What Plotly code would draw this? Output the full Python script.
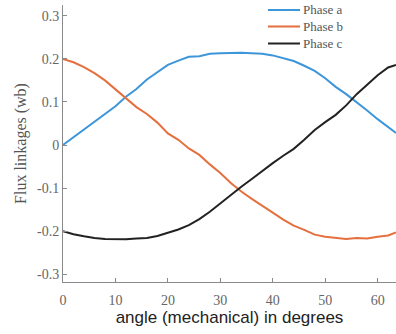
import plotly.graph_objects as go

angle = [0, 2, 4, 6, 8, 10, 12, 14, 16, 18, 20, 22, 24, 26, 28, 30, 32, 34, 36, 38,
         40, 42, 44, 46, 48, 50, 52, 54, 56, 58, 60, 62, 63.5]
phase_a = [0, 0.018, 0.036, 0.054, 0.072, 0.09, 0.112, 0.13, 0.152, 0.168, 0.186, 0.196,
           0.205, 0.206, 0.212, 0.213, 0.214, 0.214, 0.213, 0.212, 0.208, 0.202, 0.195,
           0.184, 0.172, 0.155, 0.135, 0.118, 0.1, 0.08, 0.06, 0.041, 0.028]
phase_b = [0.2, 0.192, 0.181, 0.167, 0.15, 0.13, 0.108, 0.088, 0.072, 0.052, 0.027, 0.012,
           -0.008, -0.023, -0.045, -0.065, -0.088, -0.108, -0.125, -0.142, -0.157, -0.173,
           -0.187, -0.197, -0.208, -0.213, -0.215, -0.218, -0.216, -0.217, -0.213, -0.21, -0.203]
phase_c = [-0.2, -0.207, -0.212, -0.216, -0.218, -0.218, -0.219, -0.217, -0.216, -0.211,
           -0.204, -0.196, -0.186, -0.172, -0.155, -0.135, -0.116, -0.097, -0.079, -0.06,
           -0.042, -0.025, -0.009, 0.012, 0.035, 0.053, 0.07, 0.092, 0.118, 0.14, 0.162,
           0.18, 0.186]
series_names = ["Phase a", "Phase b", "Phase c"]
x_ticks = [0, 10, 20, 30, 40, 50, 60]
y_ticks = [-0.3, -0.2, -0.1, 0, 0.1, 0.2, 0.3]
y_tick_text = ["-0.3", "-0.2", "-0.1", "0", "0.1", "0.2", "0.3"]

colors = ["#3d95da", "#e4703f", "#222222"]
serif = "Liberation Serif, Times New Roman, serif"

fig = go.Figure()
for name, vals, col in zip(series_names, [phase_a, phase_b, phase_c], colors):
    fig.add_trace(go.Scatter(x=angle, y=vals, mode="lines", name=name,
                             line=dict(color=col, width=2), showlegend=False))

# manual compact legend (MATLAB style)
leg_y = [0.982, 0.922, 0.861]
for name, col, yy in zip(series_names, colors, leg_y):
    fig.add_shape(type="line", xref="paper", yref="paper",
                  x0=0.6156, x1=0.7117, y0=yy, y1=yy,
                  line=dict(color=col, width=2))
    fig.add_annotation(xref="paper", yref="paper", x=0.716, y=yy,
                       xanchor="left", yanchor="middle", showarrow=False,
                       text=name, font=dict(family=serif, size=13, color="#555555"))

fig.update_layout(
    width=396, height=334,
    margin=dict(l=63, r=0, t=5, b=52),
    plot_bgcolor="white", paper_bgcolor="white",
    xaxis=dict(range=[0, 63.5], tickvals=x_ticks, showgrid=False, zeroline=False,
               showline=True, linecolor="#8a8a8a", linewidth=1,
               ticks="inside", ticklen=4, tickcolor="#8a8a8a",
               ticklabelstandoff=5,
               tickfont=dict(family=serif, size=14, color="#666666"),
               title=dict(text="angle (mechanical) in degrees",
                          font=dict(family="Liberation Sans, Arial, sans-serif", size=17, color="#222222"),
                          standoff=4)),
    yaxis=dict(range=[-0.318, 0.325], tickvals=y_ticks, ticktext=y_tick_text,
               showgrid=False, zeroline=False,
               showline=True, linecolor="#8a8a8a", linewidth=1,
               ticks="inside", ticklen=4, tickcolor="#8a8a8a",
               tickfont=dict(family=serif, size=14, color="#666666"),
               title=dict(text="Flux linkages (wb)",
                          font=dict(family=serif, size=16, color="#555555"),
                          standoff=6)),
)

fig.write_html("out.html")
